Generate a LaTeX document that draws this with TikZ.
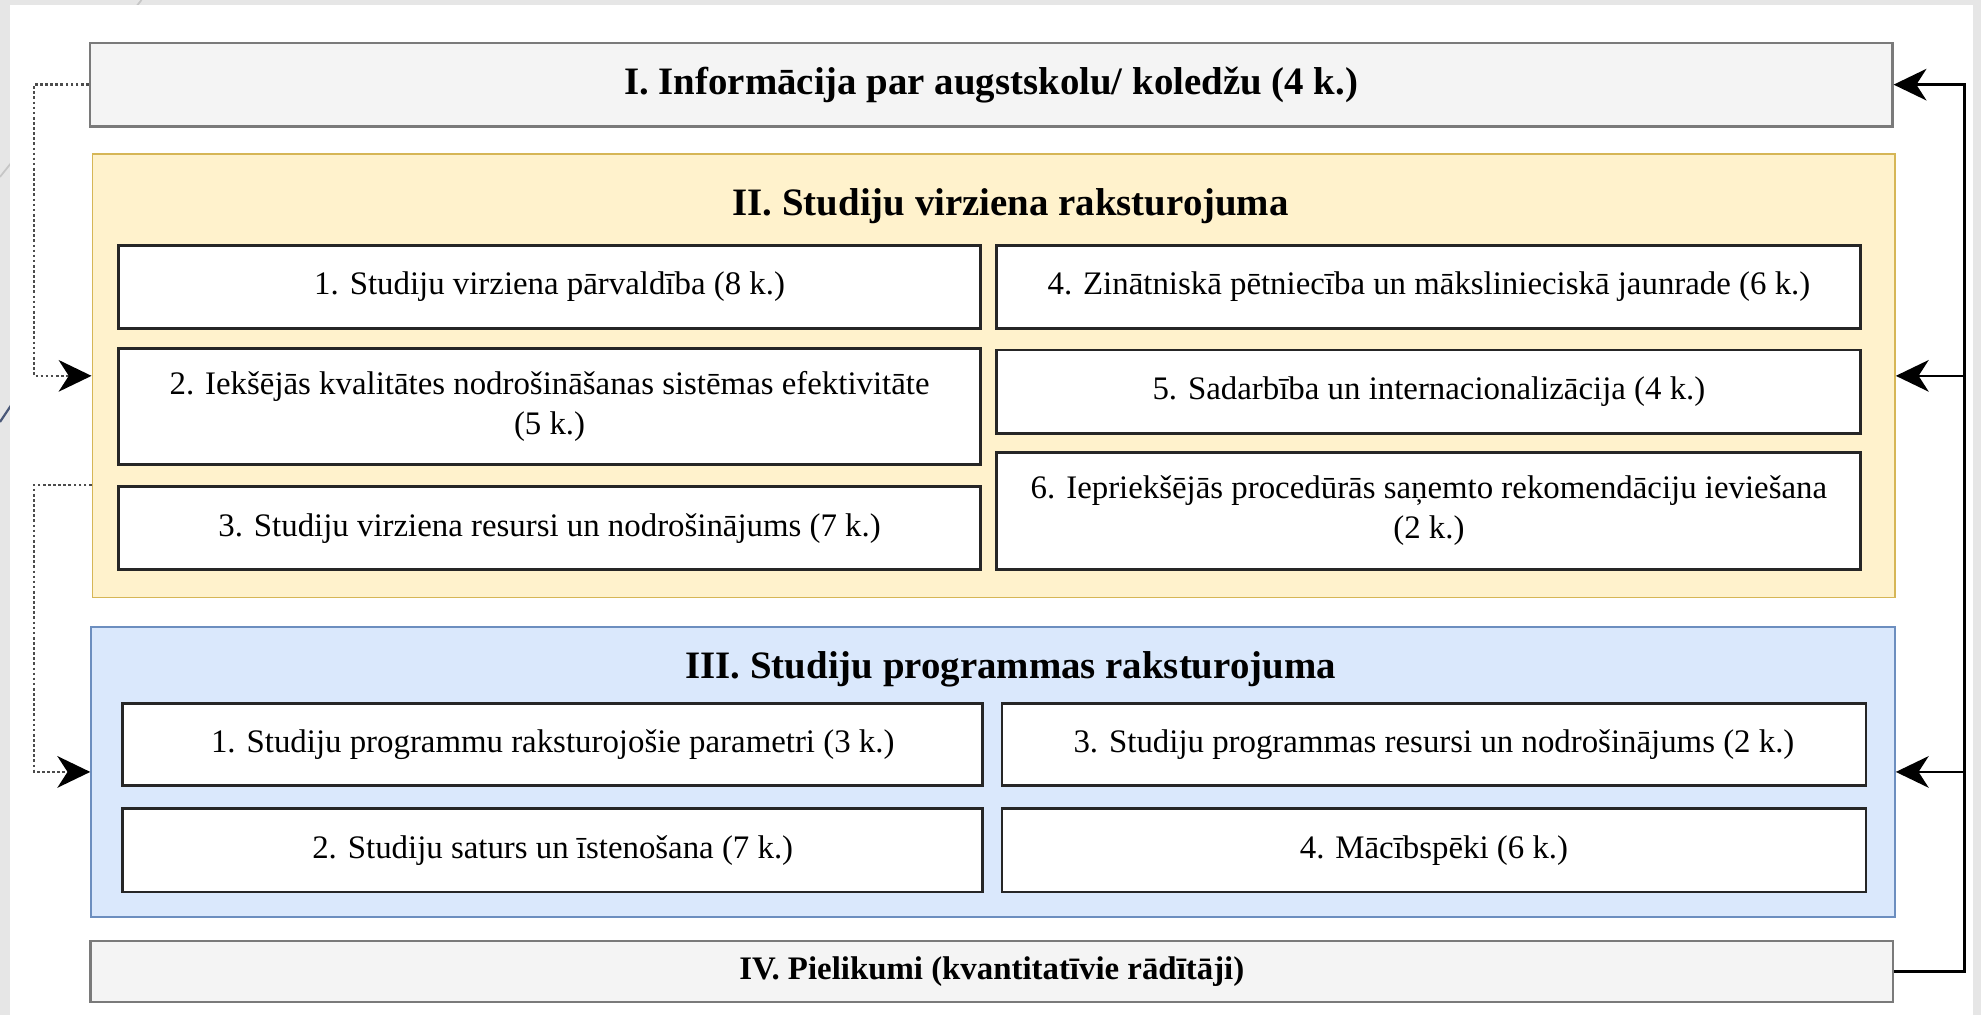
\documentclass[tikz,border=0pt]{standalone}
\usepackage{fontspec}
\setmainfont{Liberation Serif}
\usetikzlibrary{arrows.meta}
\definecolor{yelfill}{HTML}{FFF2CC}
\definecolor{yelline}{HTML}{D6B656}
\definecolor{blufill}{HTML}{DAE8FC}
\definecolor{bluline}{HTML}{6C8EBF}
\definecolor{greyfill}{HTML}{F4F4F4}
\definecolor{greyline}{HTML}{7A7A7A}
\definecolor{slide}{HTML}{E6E6E6}
\definecolor{slate}{HTML}{4A5878}

\begin{document}
\begin{tikzpicture}[x=0.02cm,y=-0.02cm,
    box/.style={draw=black!85,line width=1.3pt,fill=white,align=center,minimum height=1.32cm,font=\fontsize{14.8}{18}\selectfont},
    part/.style={draw=greyline,line width=1.1pt,fill=greyfill,minimum width=28.54cm,font=\bfseries\fontsize{17.5}{21}\selectfont},
    title/.style={font=\bfseries\fontsize{17.5}{21}\selectfont},
    conn/.style={line width=1.2pt,-{Stealth[length=0.52cm,width=0.5cm,inset=0.16cm,color=black]}},
    dotconn/.style={conn,draw=black!70,dash pattern=on 1.2pt off 1.1pt}]
    \useasboundingbox (0,0) rectangle (1568,803);
    \fill[slide] (0,0) rectangle (1568,803);
    \draw[gray!45,line width=0.8pt] (112,0) -- (0,140);
    \draw[slate,line width=1pt] (40,274) -- (0,334);
    \fill[white] (8,4) rectangle (1562,803);

    \node[part,minimum height=1.32cm] (info) at (784.5,67) {I. Informācija par augstskolu/ koledžu (4 k.)};

    \node[draw=yelline,line width=0.8pt,fill=yelfill,minimum width=28.54cm,minimum height=7.02cm] (yel) at (786.5,297.5) {};
    \node[title] (yeltitle) at (800,163) {II. Studiju virziena raksturojuma};
    \node[box,minimum width=13.64cm] (v1) at (435,227) {1. Studiju virziena pārvaldība (8 k.)};
    \node[box,minimum width=13.64cm,minimum height=1.84cm] (v2) at (435,322) {2. Iekšējās kvalitātes nodrošināšanas sistēmas efektivitāte\\(5 k.)};
    \node[box,minimum width=13.64cm] (v3) at (435,418) {3. Studiju virziena resursi un nodrošinājums (7 k.)};
    \node[box,minimum width=13.68cm] (v4) at (1131,227) {4. Zinātniskā pētniecība un mākslinieciskā jaunrade (6 k.)};
    \node[box,minimum width=13.68cm] (v5) at (1131,310) {5. Sadarbība un internacionalizācija (4 k.)};
    \node[box,minimum width=13.68cm,minimum height=1.86cm] (v6) at (1131,404.5) {6. Iepriekšējās procedūrās saņemto rekomendāciju ieviešana\\(2 k.)};

    \node[draw=bluline,line width=0.8pt,fill=blufill,minimum width=28.56cm,minimum height=4.6cm] (blu) at (786,611) {};
    \node[title] (blutitle) at (800,530) {III. Studiju programmas raksturojuma};
    \node[box,minimum width=13.62cm,minimum height=1.3cm] (p1) at (437.5,589.5) {1. Studiju programmu raksturojošie parametri (3 k.)};
    \node[box,minimum width=13.62cm] (p2) at (437.5,673) {2. Studiju saturs un īstenošana (7 k.)};
    \node[box,minimum width=13.68cm,minimum height=1.3cm] (p3) at (1135,589.5) {3. Studiju programmas resursi un nodrošinājums (2 k.)};
    \node[box,minimum width=13.68cm] (p4) at (1135,673) {4. Mācībspēki (6 k.)};

    \node[part,minimum height=0.96cm,font=\bfseries\fontsize{14.8}{18}\selectfont] (app) at (785,769) {IV. Pielikumi (kvantitatīvie rādītāji)};

    \coordinate (lrail) at (27,0);
    \coordinate (rrail) at (1555,0);
    \draw[dotconn] (info.west) -- (info.west -| lrail) |- (yel.west);
    \draw[dotconn] (yel.west |- v3.north) -- (v3.north -| lrail) |- (blu.west);
    \draw[conn] (app.east) -| (rrail |- info.east) -- (info.east);
    \draw[conn] (rrail |- yel.east) -- (yel.east);
    \draw[conn] (rrail |- blu.east) -- (blu.east);
\end{tikzpicture}
\end{document}
